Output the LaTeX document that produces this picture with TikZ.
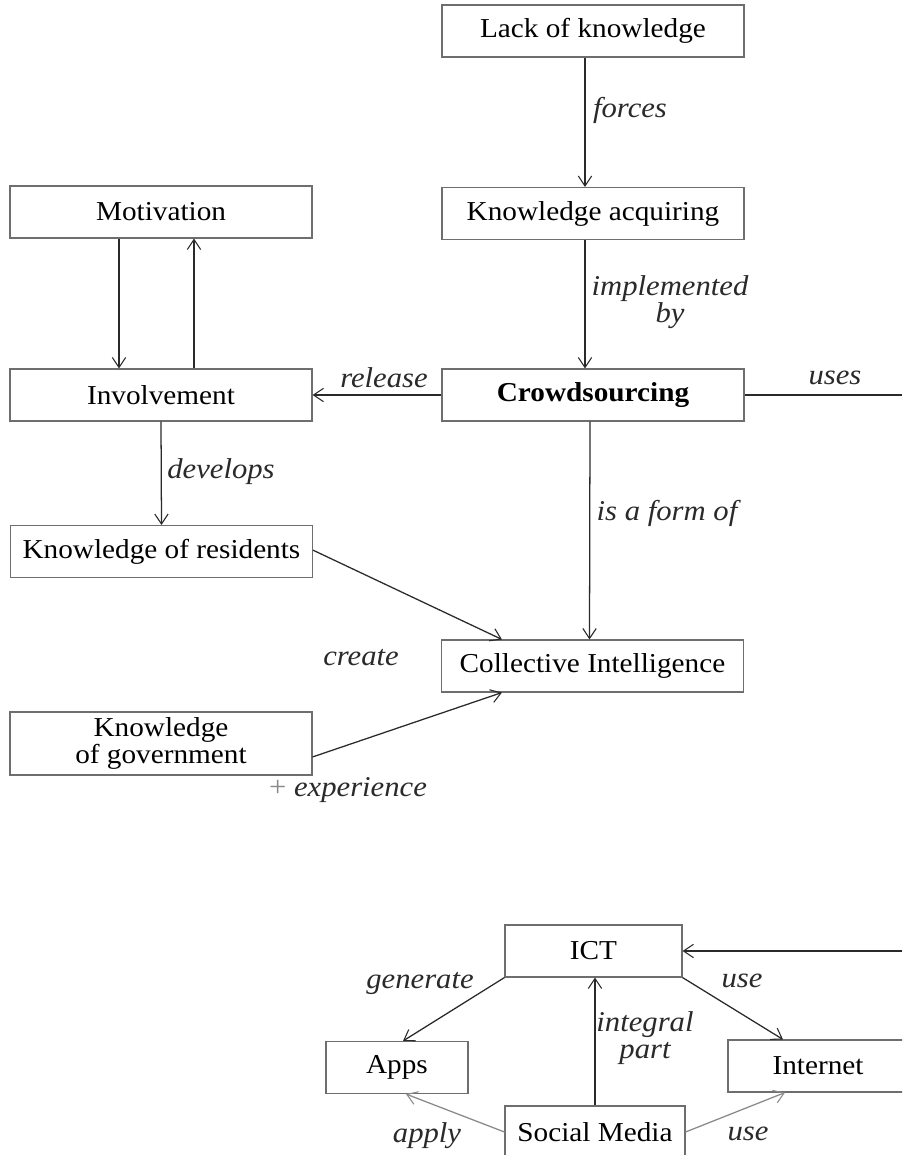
\documentclass[tikz,border=0pt]{standalone}
\usepackage{fontspec}
\setmainfont[FakeStretch=1.07]{Liberation Serif}
\usetikzlibrary{arrows.meta}
\definecolor{boxgray}{HTML}{6E6E6E}
\definecolor{linecol}{HTML}{2A2A2A}
\definecolor{lightline}{HTML}{8A8A8A}
\begin{document}
\begin{tikzpicture}[x=0.75pt,y=-0.75pt,
  box/.style={draw=boxgray, line width=0.8pt, inner sep=0pt, minimum width=226.5pt, minimum height=39pt, font=\fontsize{20.5}{22}\selectfont, align=center},
  lbl/.style={font=\fontsize{21.5}{17}\selectfont\itshape, inner sep=0pt, align=center, text=linecol},
  arr/.style={line width=0.95pt, draw=linecol, -{Straight Barb[length=7.5pt,width=10pt,line width=0.8pt]}},
  ln/.style={line width=0.95pt, draw=linecol},
  garr/.style={arr, draw=lightline}]
\useasboundingbox (0,0) rectangle (902,1155);
\clip (0,0) rectangle (902,1155);
\fill[white] (0,0) rectangle (902,1155);

% boxes
\node[box] (lack) at (593,31) {Lack of knowledge};
\node[box] (kacq) at (593,213.5) {Knowledge acquiring};
\node[box] (motiv) at (161,212) {Motivation};
\node[box] (invol) at (161,395) {Involvement};
\node[box, font=\fontsize{20.5}{22}\selectfont\bfseries] (crowd) at (593,395) {Crowdsourcing};
\node[box] (kres) at (161.5,551.5) {Knowledge of residents};
\node[box] (ci) at (592.5,666) {Collective Intelligence};
\node[box, minimum height=47.25pt, font=\fontsize{20.5}{17}\selectfont] (kgov) at (161,743.5) {Knowledge\\of government};
\node[box, minimum width=132.75pt] (ict) at (593.5,951) {ICT};
\node[box, minimum width=106.5pt] (apps) at (397,1067.5) {Apps};
\node[box, minimum width=135pt] (inet) at (818,1066) {Internet};
\node[box, minimum width=135pt] (sm) at (595,1132) {Social Media};

\coordinate (redge1) at (902,395);
\coordinate (redge2) at (902,951);

% connectors
\draw[arr] ([xshift=-6pt]lack.south) -- ([xshift=-6pt]kacq.north);
\draw[arr] ([xshift=-6pt]kacq.south) -- ([xshift=-6pt]crowd.north);
\draw[arr] ([xshift=-31.5pt]motiv.south) -- ([xshift=-31.5pt]invol.north);
\draw[arr] ([xshift=24.75pt]invol.north) -- ([xshift=24.75pt]motiv.south);
\draw[arr] (crowd.west) -- (invol.east);
\draw[ln] (crowd.east) -- (redge1);
\draw[arr] (invol.south) -- (kres.north);
\draw[arr] ([xshift=-2.25pt]crowd.south) -- ([xshift=-2.25pt]ci.north);
\draw[arr] ([yshift=1pt]kres.east) -- ([xshift=-67.9pt]ci.north);
\draw[arr] ([yshift=-10.1pt]kgov.east) -- ([xshift=-67.9pt]ci.south);
\draw[arr] (redge2) -- (ict.east);
\draw[arr] (ict.south west) -- ([xshift=4.5pt]apps.north);
\draw[arr] (ict.south east) -- ([xshift=-26.25pt]inet.north);
\draw[arr] (sm.north) -- (sm.north |- ict.south);
\draw[garr] (sm.west) -- ([xshift=6.75pt]apps.south);
\draw[garr] (sm.east) -- ([xshift=-24.75pt]inet.south);

% labels
\node[lbl] (lforces) at (630,110) {forces};
\node[lbl, font=\fontsize{21.5}{19}\selectfont\itshape] (limpl) at (670,302) {implemented\\by};
\node[lbl] (lrel) at (384,378) {release};
\node[lbl] (luses) at (835,378) {uses};
\node[lbl] (ldev) at (221,472) {develops};
\node[lbl] (lform) at (667,513) {is a form of};
\node[lbl] (lcreate) at (361,658) {create};
\node[lbl] (lexp) at (348,790) {{\upshape\color{lightline}+} experience};
\node[lbl] (lgen) at (420,983) {generate};
\node[lbl] (luse1) at (742,981) {use};
\node[lbl, font=\fontsize{21.5}{20.5}\selectfont\itshape] (lint) at (645,1038) {integral\\part};
\node[lbl] (lapply) at (427,1136) {apply};
\node[lbl] (luse2) at (748,1134) {use};
\end{tikzpicture}
\end{document}
